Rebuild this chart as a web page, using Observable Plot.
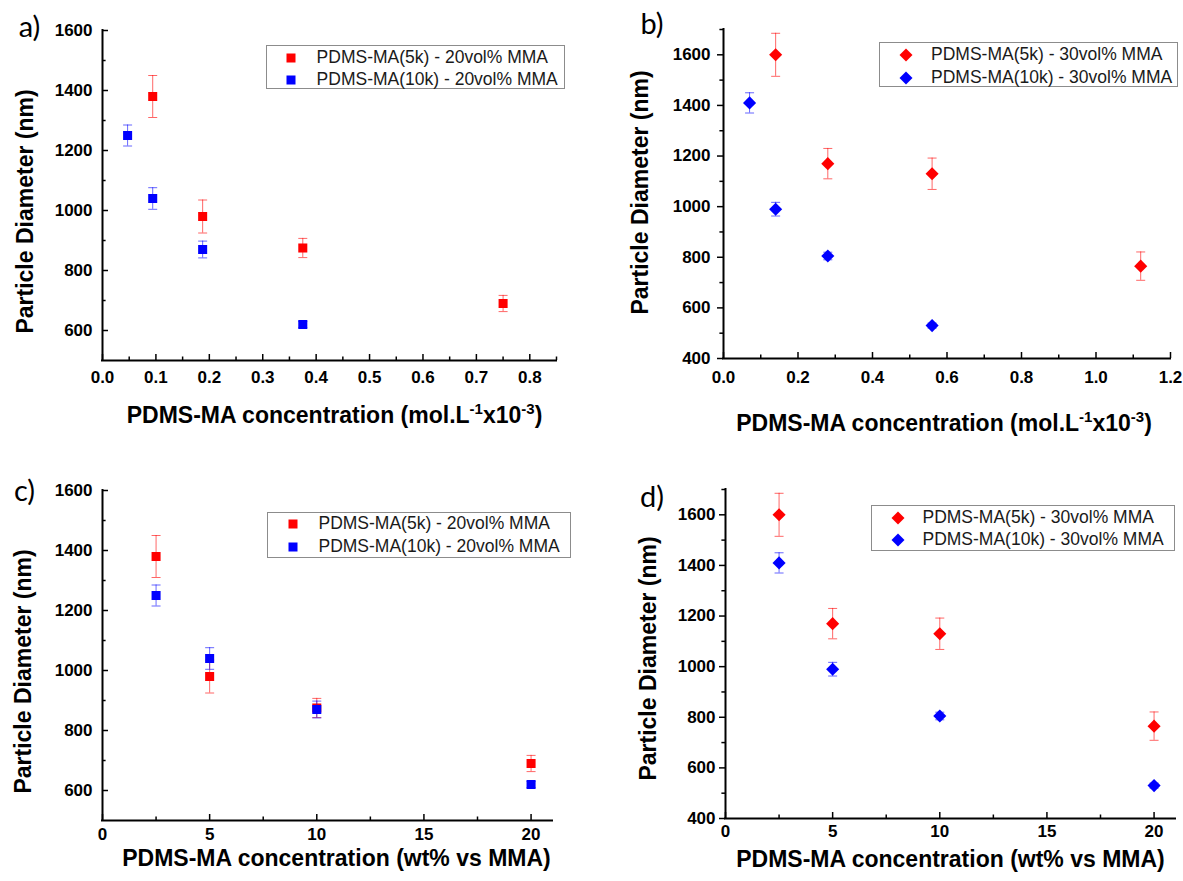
<!DOCTYPE html>
<html>
<head>
<meta charset="utf-8">
<script src="https://cdn.jsdelivr.net/npm/d3@7"></script>
<script src="https://cdn.jsdelivr.net/npm/@observablehq/plot@0.6"></script>
<style>
  body { margin: 0; background: #fff; }
  #wrap { position: relative; width: 1183px; height: 881px; overflow: hidden; background: #fff;
          font-family: "Liberation Sans", Arial, sans-serif; }
  .panel { position: absolute; }
  .legend { position: absolute; border: 1px solid #8c8c8c; background: #fff; box-sizing: border-box; }
  .legend .txt { position: absolute; white-space: nowrap; font-size: 17.5px; color: #1a1a1a; transform: translateY(-50%); line-height: 1; }
  .legend svg { position: absolute; overflow: visible; }
</style>
</head>
<body>
<div id="wrap"></div>
<script>
// ---------------- data ----------------
const wtPct = [2.5, 5, 10, 20];                       // wt% PDMS-MA vs MMA
const molConc5k_20vol  = [0.094, 0.1875, 0.375, 0.75]; // mol.L-1 x10-3
const molConc10k_20vol = [0.047, 0.094, 0.1875, 0.375];
const molConc5k_30vol  = [0.14, 0.28, 0.56, 1.12];
const molConc10k_30vol = [0.07, 0.14, 0.28, 0.56];

const diam5k_20vol  = [1380, 980, 875, 690];
const err5k_20vol   = [70, 55, 32, 27];
const diam10k_20vol = [1250, 1040, 870, 620];
const err10k_20vol  = [35, 36, 28, 10];

const diam5k_30vol  = [1600, 1170, 1130, 765];
const err5k_30vol   = [85, 60, 62, 56];
const diam10k_30vol = [1410, 990, 805, 530];
const err10k_30vol  = [40, 27, 15, 10];

const labels20vol = ["PDMS-MA(5k) - 20vol% MMA", "PDMS-MA(10k) - 20vol% MMA"];
const labels30vol = ["PDMS-MA(5k) - 30vol% MMA", "PDMS-MA(10k) - 30vol% MMA"];
const panelLetters = ["a)", "b)", "c)", "d)"];

// tick values
const molTicks20 = [0, 0.1, 0.2, 0.3, 0.4, 0.5, 0.6, 0.7, 0.8];
const molMinor20 = [0.05, 0.15, 0.25, 0.35, 0.45, 0.55, 0.65, 0.75, 0.85];
const molTicks30 = [0, 0.2, 0.4, 0.6, 0.8, 1.0, 1.2];
const molMinor30 = [0.1, 0.3, 0.5, 0.7, 0.9, 1.1];
const wtTicks = [0, 5, 10, 15, 20];
const wtMinor = [2.5, 7.5, 12.5, 17.5];
const diamTicks20 = [600, 800, 1000, 1200, 1400, 1600];
const diamMinor20 = [700, 900, 1100, 1300, 1500];
const diamTicks30 = [400, 600, 800, 1000, 1200, 1400, 1600];
const diamMinor30 = [500, 700, 900, 1100, 1300, 1500, 1700];

const yTitle = "Particle Diameter (nm)";
const xTitleMol = "PDMS-MA concentration (mol.L-1x10-3)";
const xTitleWt = "PDMS-MA concentration (wt% vs MMA)";

const RED = "#ff0000", BLUE = "#0000ff";
const FONT = '"Liberation Sans", Arial, sans-serif';

// --------------- helpers ---------------
const capSymbol = { draw(ctx, size) { const w = Math.sqrt(size / Math.PI); ctx.moveTo(-w, 0); ctx.lineTo(w, 0); } };

function makePanel(cfg) {
  const marks = [];
  marks.push(Plot.ruleX([cfg.xDomain[0]], {stroke: "#000", strokeWidth: 2, strokeLinecap: "square"}));
  marks.push(Plot.ruleY([cfg.yDomain[0]], {stroke: "#000", strokeWidth: 2, strokeLinecap: "square"}));
  marks.push(Plot.axisX(cfg.xTicks, {tickSize: -6, tickPadding: cfg.xPad, tickFormat: cfg.xFmt, fontSize: 17, label: null, strokeWidth: 1.5, fill: "#000"}));
  marks.push(Plot.axisX(cfg.xMinor, {tickSize: -3.5, tickPadding: 0, tickFormat: () => "", label: null, strokeWidth: 1.5}));
  marks.push(Plot.axisY(cfg.yTicks, {tickSize: cfg.yTick, tickPadding: cfg.yPad, tickFormat: d3.format("d"), fontSize: 17, label: null, strokeWidth: 1.5, fill: "#000"}));
  marks.push(Plot.axisY(cfg.yMinor, {tickSize: cfg.yTick * 0.6, tickPadding: 0, tickFormat: () => "", label: null, strokeWidth: 1.5}));
  for (const s of cfg.series) {
    const idx = d3.range(s.x.length);
    marks.push(Plot.ruleX(idx, {x: i => s.x[i], y1: i => s.y[i] - s.e[i], y2: i => s.y[i] + s.e[i], stroke: s.color, strokeOpacity: 0.6, strokeWidth: 1}));
    marks.push(Plot.dot(idx, {x: i => s.x[i], y: i => s.y[i] + s.e[i], symbol: capSymbol, r: 4.5, stroke: s.color, strokeOpacity: 0.6, fill: "none", strokeWidth: 1}));
    marks.push(Plot.dot(idx, {x: i => s.x[i], y: i => s.y[i] - s.e[i], symbol: capSymbol, r: 4.5, stroke: s.color, strokeOpacity: 0.6, fill: "none", strokeWidth: 1}));
    marks.push(Plot.dot(idx, {x: i => s.x[i], y: i => s.y[i], symbol: cfg.symbol, r: cfg.r, fill: s.color, stroke: "none"}));
  }
  marks.push(Plot.text([yTitle], {text: d => d, frameAnchor: "left", rotate: -90, dx: cfg.yt[0], dy: cfg.yt[1], fontSize: 23, fontWeight: "bold", textAnchor: "middle", lineAnchor: "middle", fill: "#000"}));
  marks.push(Plot.text([cfg.xTitle], {text: d => d, frameAnchor: "bottom", dx: cfg.xt[0], dy: cfg.xt[1], fontSize: 23, fontWeight: "bold", textAnchor: "middle", lineAnchor: "middle", fill: "#000"}));
  marks.push(Plot.text([cfg.letter], {text: d => d, frameAnchor: "top-left", dx: cfg.lt[0], dy: cfg.lt[1], fontSize: 29, fontFamily: "Lato, 'Open Sans', sans-serif", textAnchor: "middle", lineAnchor: "middle", fill: "#000"}));

  const p = Plot.plot({
    width: cfg.width, height: cfg.height,
    marginTop: cfg.m[0], marginRight: cfg.m[1], marginBottom: cfg.m[2], marginLeft: cfg.m[3],
    x: {type: "linear", domain: cfg.xDomain},
    y: {type: "linear", domain: cfg.yDomain},
    style: {fontFamily: FONT, fontSize: "16px", background: "transparent", color: "#000", overflow: "visible"},
    marks
  });
  p.classList.add("panel");
  p.style.left = cfg.left + "px";
  p.style.top = cfg.top + "px";
  p.querySelectorAll("text").forEach(t => {
    // bold numeric tick labels
    if (/^[\d.]+$/.test(t.textContent.trim())) {
      t.setAttribute("font-weight", "bold");
      t.style.fontWeight = "bold";
      t.style.fontSize = "17px";
    }
    // superscripts in the mol axis title
    if (t.textContent === xTitleMol) {
      t.innerHTML = 'PDMS-MA concentration (mol.L<tspan dy="-9" font-size="15">-1</tspan><tspan dy="9">x10</tspan><tspan dy="-9" font-size="15">-3</tspan><tspan dy="9">)</tspan>';
    }
  });
  document.getElementById("wrap").appendChild(p);
}

function makeLegend(cfg) {
  const box = document.createElement("div");
  box.className = "legend";
  Object.assign(box.style, {left: cfg.box[0] + "px", top: cfg.box[1] + "px", width: (cfg.box[2] - cfg.box[0]) + "px", height: (cfg.box[3] - cfg.box[1]) + "px"});
  cfg.labels.forEach((lab, i) => {
    const ry = cfg.rows[i] - cfg.box[1];
    const svg = document.createElementNS("http://www.w3.org/2000/svg", "svg");
    svg.setAttribute("width", 16); svg.setAttribute("height", 16);
    svg.style.left = (cfg.mx - cfg.box[0] - 8) + "px";
    svg.style.top = (ry - 8) + "px";
    const color = i === 0 ? RED : BLUE;
    if (cfg.symbol === "square") {
      svg.innerHTML = `<rect x="3.5" y="3.5" width="9" height="9" fill="${color}"/>`;
    } else {
      svg.innerHTML = `<path d="M8,1.5L14.5,8L8,14.5L1.5,8Z" fill="${color}"/>`;
    }
    box.appendChild(svg);
    const tx = document.createElement("div");
    tx.className = "txt";
    tx.textContent = lab;
    tx.style.left = (cfg.tx - cfg.box[0]) + "px";
    tx.style.top = ry + "px";
    box.appendChild(tx);
  });
  document.getElementById("wrap").appendChild(box);
}

// --------------- panels ---------------
const fmt1 = d3.format(".1f"), fmtInt = d3.format("d");

makePanel({left: 0, top: 0, width: 590, height: 440, m: [30, 34, 80, 102],
  xDomain: [0, 0.85], yDomain: [500, 1600], xTicks: molTicks20, xMinor: molMinor20, yTicks: diamTicks20, yMinor: diamMinor20,
  xFmt: fmt1, xPad: 16, yTick: -6, yPad: 16, symbol: "square", r: 5.1,
  series: [{x: molConc5k_20vol, y: diam5k_20vol, e: err5k_20vol, color: RED}, {x: molConc10k_20vol, y: diam10k_20vol, e: err10k_20vol, color: BLUE}],
  xTitle: xTitleMol, yt: [-77, 16], xt: [5, 55], letter: panelLetters[0], lt: [-73, -3]});

makePanel({left: 590, top: 0, width: 593, height: 440, m: [29, 13, 82, 133],
  xDomain: [0, 1.2], yDomain: [400, 1700], xTicks: molTicks30, xMinor: molMinor30, yTicks: diamTicks30, yMinor: diamMinor30,
  xFmt: fmt1, xPad: 18, yTick: 6, yPad: 7, symbol: "diamond2", r: 5.9,
  series: [{x: molConc5k_30vol, y: diam5k_30vol, e: err5k_30vol, color: RED}, {x: molConc10k_30vol, y: diam10k_30vol, e: err10k_30vol, color: BLUE}],
  xTitle: xTitleMol, yt: [-83, -1.5], xt: [-3, 65], letter: panelLetters[1], lt: [-71.5, -5]});

makePanel({left: 0, top: 440, width: 590, height: 441, m: [50, 38, 61, 102],
  xDomain: [0, 21], yDomain: [500, 1600], xTicks: wtTicks, xMinor: wtMinor, yTicks: diamTicks20, yMinor: diamMinor20,
  xFmt: fmtInt, xPad: 13, yTick: -6, yPad: 16, symbol: "square", r: 5.1,
  series: [{x: wtPct, y: diam5k_20vol, e: err5k_20vol, color: RED}, {x: wtPct, y: diam10k_20vol, e: err10k_20vol, color: BLUE}],
  xTitle: xTitleWt, yt: [-79, 16], xt: [9, 38], letter: panelLetters[2], lt: [-78, 1]});

makePanel({left: 590, top: 440, width: 593, height: 441, m: [49, 8, 63, 135],
  xDomain: [0, 21], yDomain: [400, 1700], xTicks: wtTicks, xMinor: wtMinor, yTicks: diamTicks30, yMinor: diamMinor30,
  xFmt: fmtInt, xPad: 12, yTick: 6, yPad: 4, symbol: "diamond2", r: 5.9,
  series: [{x: wtPct, y: diam5k_30vol, e: err5k_30vol, color: RED}, {x: wtPct, y: diam10k_30vol, e: err10k_30vol, color: BLUE}],
  xTitle: xTitleWt, yt: [-77, 4.5], xt: [0, 41], letter: panelLetters[3], lt: [-73.5, 8.5]});

// --------------- legends ---------------
makeLegend({box: [265.5, 45, 565, 89.3], rows: [57.3, 79], mx: 290, tx: 315.6, symbol: "square", labels: labels20vol});
makeLegend({box: [879, 42.3, 1177.6, 87.3], rows: [54.3, 76.7], mx: 904.5, tx: 930, symbol: "diamond", labels: labels30vol});
makeLegend({box: [266.7, 511.7, 571.4, 558.3], rows: [523.3, 546], mx: 292, tx: 317.5, symbol: "square", labels: labels20vol});
makeLegend({box: [871.4, 505, 1175, 550.7], rows: [517.3, 539], mx: 897, tx: 921.5, symbol: "diamond", labels: labels30vol});
</script>
</body>
</html>
